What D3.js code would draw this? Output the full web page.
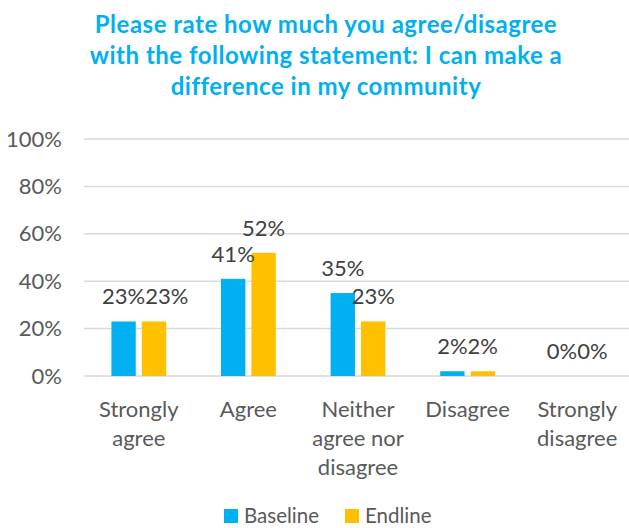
<!DOCTYPE html>
<html>
<head>
<meta charset="utf-8">
<script src="https://cdn.jsdelivr.net/npm/d3@7"></script>
<style>
  html, body { margin: 0; padding: 0; background: #fff; }
  svg { display: block; font-family: Lato, "Open Sans", sans-serif; }
</style>
</head>
<body>
<svg id="chart" width="629" height="528"></svg>
<script>
// Survey responses: "I can make a difference in my community"
const categories = [
  ["Strongly", "agree"],
  ["Agree"],
  ["Neither", "agree nor", "disagree"],
  ["Disagree"],
  ["Strongly", "disagree"]
];
const seriesNames = ["Baseline", "Endline"];
const baseline = [23, 41, 35, 2, 0];
const endline = [23, 52, 23, 2, 0];
const yTicks = [0, 20, 40, 60, 80, 100];
const titleLines = [
  "Please rate how much you agree/disagree",
  "with the following statement: I can make a",
  "difference in my community"
];
const colors = ["#00B0F0", "#FFC000"];

const svg = d3.select("#chart");
const W = 629, H = 528;
const margin = { left: 84, right: -3, top: 139, bottom: 152 };
const plotW = W - margin.left - margin.right;
const plotH = H - margin.top - margin.bottom;

const textColor = "#595959";
const fontSize = 22;

// Title
const title = svg.append("text")
  .attr("text-anchor", "middle")
  .attr("fill", "#00B0F0")
  .attr("font-weight", "bold")
  .attr("font-size", 24)
  .attr("letter-spacing", 0.5);
titleLines.forEach((t, i) => {
  title.append("tspan").attr("x", 326).attr("y", 33 + i * 31).text(t);
});

const g = svg.append("g").attr("transform", `translate(${margin.left},${margin.top})`);

const x0 = d3.scaleBand()
  .domain(d3.range(categories.length))
  .range([0, plotW])
  .paddingInner(0.5)
  .paddingOuter(0.25);
const x1 = d3.scaleBand()
  .domain(d3.range(seriesNames.length))
  .range([0, x0.bandwidth()])
  .paddingInner(0.2);
const y = d3.scaleLinear().domain([0, 100]).range([plotH, 0]);

// Gridlines
g.append("g")
  .selectAll("line")
  .data(yTicks)
  .join("line")
  .attr("x1", 0).attr("x2", plotW)
  .attr("y1", d => y(d)).attr("y2", d => y(d))
  .attr("stroke", "#D9D9D9")
  .attr("stroke-width", 1.5);

// Y axis labels
const yAxis = d3.axisLeft(y).tickValues(yTicks).tickFormat(d => d + "%").tickSize(0).tickPadding(22);
g.append("g").call(yAxis)
  .call(s => s.select(".domain").remove())
  .call(s => s.selectAll("text")
    .attr("fill", textColor)
    .attr("font-size", fontSize)
    .attr("font-family", "Lato, 'Open Sans', sans-serif"));

// Bars
const data = [baseline, endline];
const groups = g.append("g")
  .selectAll("g")
  .data(categories.map((c, i) => i))
  .join("g")
  .attr("transform", i => `translate(${x0(i)},0)`);

groups.selectAll("rect")
  .data(i => data.map((s, k) => ({ k, v: s[i] })))
  .join("rect")
  .attr("x", d => x1(d.k))
  .attr("width", x1.bandwidth())
  .attr("y", d => y(d.v))
  .attr("height", d => y(0) - y(d.v))
  .attr("fill", d => colors[d.k]);

// Value labels, centred over each bar
groups.selectAll("text.val")
  .data(i => data.map((s, k) => ({ k, v: s[i] })))
  .join("text")
  .attr("class", "val")
  .attr("x", d => x1(d.k) + x1.bandwidth() / 2)
  .attr("y", d => y(d.v) - 17)
  .attr("text-anchor", "middle")
  .attr("fill", "#404040")
  .attr("font-size", fontSize)
  .text(d => d.v + "%");

// Nudge the second label right when both labels sit on the same line and collide
groups.each(function () {
  const labels = d3.select(this).selectAll("text.val").nodes();
  const [a, b] = labels;
  if (a.getAttribute("y") !== b.getAttribute("y")) return;
  const ba = a.getBBox(), bb = b.getBBox();
  const overlap = (ba.x + ba.width) - bb.x;
  if (overlap > 0) {
    b.setAttribute("x", +b.getAttribute("x") + overlap);
  }
});

// Category labels
const xl = g.append("g").attr("transform", `translate(0,${plotH})`);
categories.forEach((lines, i) => {
  const t = xl.append("text")
    .attr("text-anchor", "middle")
    .attr("fill", textColor)
    .attr("font-size", fontSize);
  lines.forEach((ln, j) => {
    t.append("tspan")
      .attr("x", x0(i) + x0.bandwidth() / 2)
      .attr("y", 41 + j * 29)
      .text(ln);
  });
});

// Legend
const legend = svg.append("g");
const legendItems = [
  { name: seriesNames[0], color: colors[0], x: 224 },
  { name: seriesNames[1], color: colors[1], x: 345 }
];
legendItems.forEach(it => {
  legend.append("rect")
    .attr("x", it.x).attr("y", 509)
    .attr("width", 14).attr("height", 14)
    .attr("fill", it.color);
  legend.append("text")
    .attr("x", it.x + 20).attr("y", 523)
    .attr("fill", textColor)
    .attr("font-size", 20.5)
    .text(it.name);
});
</script>
</body>
</html>
